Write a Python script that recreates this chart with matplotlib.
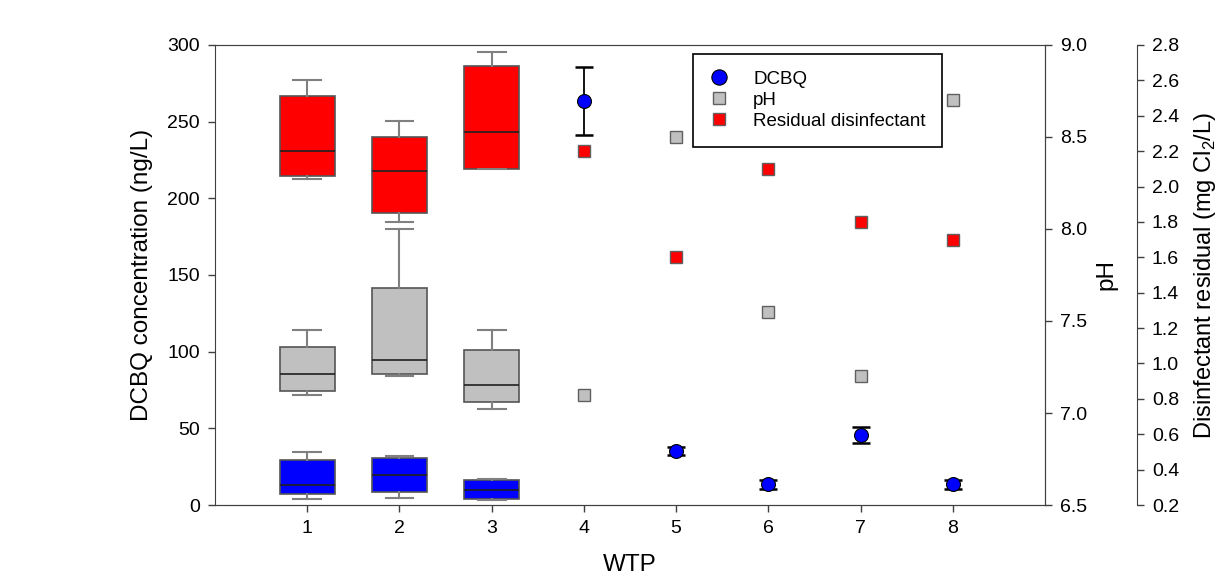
import matplotlib
matplotlib.use("Agg")
import matplotlib.pyplot as plt
from matplotlib.lines import Line2D

plt.rcParams['font.family'] = ['Liberation Sans', 'DejaVu Sans']
plt.rcParams['mathtext.fontset'] = 'custom'
plt.rcParams['mathtext.rm'] = 'Liberation Sans'

# WTP 1-3: box statistics (whislo, q1, median, q3, whishi)
wtp_box = [1, 2, 3]
dcbq_box = [[4.1, 7.0, 13.2, 29.6, 34.8],
            [4.8, 8.7, 19.8, 30.4, 32.2],
            [3.3, 4.1, 10.0, 16.3, 17.0]]
ph_box = [[7.10, 7.12, 7.21, 7.36, 7.45],
          [7.20, 7.21, 7.29, 7.68, 8.00],
          [7.02, 7.06, 7.15, 7.34, 7.45]]
res_box = [[2.04, 2.06, 2.20, 2.51, 2.60],
           [1.80, 1.85, 2.09, 2.28, 2.37],
           [2.10, 2.10, 2.31, 2.68, 2.76]]

# WTP 4-8: single values
wtp_pts = [4, 5, 6, 7, 8]
dcbq_mean = [263.5, 35.2, 13.5, 45.4, 13.5]
dcbq_err = [22.3, 2.8, 3.0, 5.2, 3.0]
ph_pts = [7.10, 8.50, 7.55, 7.20, 8.70]
res_pts = [2.20, 1.60, 2.10, 1.80, 1.70]

edge = '#404040'


def stats(rows):
    out = []
    for r in rows:
        out.append({'whislo': r[0], 'q1': r[1], 'med': r[2], 'q3': r[3], 'whishi': r[4], 'fliers': []})
    return out


def draw_boxes(ax, rows, color):
    ax.bxp(stats(rows), positions=wtp_box, widths=0.6, patch_artist=True, manage_ticks=False,
           boxprops=dict(facecolor=color, edgecolor='#555555', linewidth=1.2),
           medianprops=dict(color='#202020', linewidth=1.2),
           whiskerprops=dict(color='#808080', linewidth=1.5),
           capprops=dict(color='#808080', linewidth=1.5), capwidths=0.3)


fig = plt.figure(figsize=(12.21, 5.79), dpi=100)
ax = fig.add_axes([0.1761, 0.1278, 0.6798, 0.7945])
ax2 = ax.twinx()
ax3 = ax.twinx()
ax3.spines['right'].set_position(('outward', 66))

draw_boxes(ax2, ph_box, '#C0C0C0')
draw_boxes(ax3, res_box, '#FF0000')
draw_boxes(ax, dcbq_box, '#0000FF')

ax2.plot(wtp_pts, ph_pts, 's', ms=8, mfc='#C0C0C0', mec='#606060', mew=1)
ax3.plot(wtp_pts, res_pts, 's', ms=8, mfc='#FF0000', mec='#606060', mew=1)
ax3.errorbar(wtp_pts, dcbq_mean, yerr=dcbq_err, fmt='none', ecolor='black', capsize=6.5,
             elinewidth=1.3, capthick=1.8, transform=ax.transData)
ax3.plot(wtp_pts, dcbq_mean, 'o', ms=10, mfc='#0000FF', mec='black', mew=0.8,
         transform=ax.transData)

ax.set_xlim(0, 9)
ax.set_ylim(0, 300)
ax2.set_ylim(6.5, 9.0)
ax3.set_ylim(0.2, 2.8)
ax.set_xticks(range(1, 9))
ax.set_yticks(range(0, 301, 50))
ax2.set_yticks([6.5, 7.0, 7.5, 8.0, 8.5, 9.0])
ax2.set_yticklabels(['6.5', '7.0', '7.5', '8.0', '8.5', '9.0'])
ax3.set_yticks([0.2 + 0.2 * i for i in range(14)])
ax3.set_yticklabels(['%.1f' % (0.2 + 0.2 * i) for i in range(14)])

for a in (ax, ax2, ax3):
    a.tick_params(direction='out', length=5, width=1, color=edge, labelsize=14, pad=6)
    for s in a.spines.values():
        s.set_color(edge)
ax.spines['top'].set_color('#909090')
ax3.spines['left'].set_visible(False)
ax3.spines['top'].set_visible(False)
ax3.spines['bottom'].set_visible(False)
ax2.spines['left'].set_visible(False)

ax.set_xlabel('WTP', fontsize=17.5, labelpad=12)
ax.set_ylabel('DCBQ concentration (ng/L)', fontsize=17.5, labelpad=10)
ax2.set_ylabel('pH', fontsize=17.5, labelpad=6)
ax3.set_ylabel(r'Disinfectant residual (mg Cl$_2$/L)', fontsize=17, labelpad=9)

handles = [Line2D([], [], ls='none', marker='o', ms=11, mfc='#0000FF', mec='black', mew=0.8),
           Line2D([], [], ls='none', marker='s', ms=8, mfc='#C0C0C0', mec='#606060', mew=1),
           Line2D([], [], ls='none', marker='s', ms=8, mfc='#FF0000', mec='#606060', mew=1)]
leg = ax3.legend(handles, ['DCBQ', 'pH', 'Residual disinfectant'], loc='upper left',
                 bbox_to_anchor=(0.5676, 0.9067), bbox_transform=fig.transFigure,
                 fontsize=13.5, fancybox=False, edgecolor='black', framealpha=1,
                 labelspacing=0.2, handlelength=1.0, handletextpad=1.3,
                 borderpad=0.9, borderaxespad=0)
leg.get_frame().set_linewidth(1.2)

fig.savefig('out.png', dpi=100)
